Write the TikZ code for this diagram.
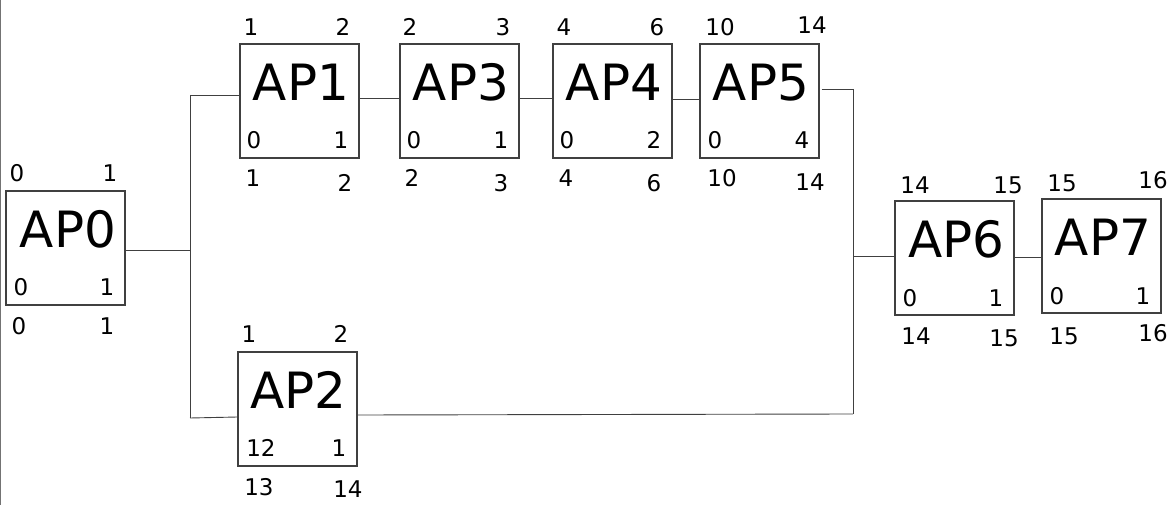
\documentclass[tikz,border=0pt]{standalone}
\usepackage{fontspec}
\setmainfont{DejaVu Sans}
\usepackage{tikz}
\usepackage{xcolor}

\begin{document}
\begin{tikzpicture}[x=1pt,y=-1pt,
  apbox/.style={draw=black!75,line width=1.2pt,minimum width=119pt,minimum height=114pt,inner sep=0pt},
  aptext/.style={inner sep=0pt,font=\fontsize{50}{60}\selectfont},
  num/.style={inner sep=0pt,font=\fontsize{23}{27}\selectfont},
  wire/.style={draw=black!75,line width=0.9pt}]
\useasboundingbox (0,0) rectangle (1175,505);
\draw[black!55,line width=1.5pt] (0.5,0) -- (0.5,505);

% boxes
\node[apbox] (ap0) at (65.5,248) {}; \node[aptext] (ap0t) at ([xshift=2.5,yshift=18.5]ap0.center) {AP0};
\node[apbox] (ap1) at (299.5,101) {}; \node[aptext] (ap1t) at ([xshift=1.5,yshift=18.5]ap1.center) {AP1};
\node[apbox] (ap3) at (459.5,101) {}; \node[aptext] (ap3t) at ([xshift=1.5,yshift=18.5]ap3.center) {AP3};
\node[apbox] (ap4) at (612.5,101) {}; \node[aptext] (ap4t) at ([xshift=1.5,yshift=18.5]ap4.center) {AP4};
\node[apbox] (ap5) at (759.5,101) {}; \node[aptext] (ap5t) at ([xshift=1.5,yshift=18.5]ap5.center) {AP5};
\node[apbox] (ap2) at (297.5,409) {}; \node[aptext] (ap2t) at ([xshift=1,yshift=19]ap2.center) {AP2};
\node[apbox] (ap6) at (954.5,258) {}; \node[aptext] (ap6t) at ([xshift=2,yshift=19]ap6.center) {AP6};
\node[apbox] (ap7) at (1101.5,256) {}; \node[aptext] (ap7t) at ([xshift=1.5,yshift=18.5]ap7.center) {AP7};

% numbers: top, inside, below
\node[num] (ap0tl) at (17,173) {0};   \node[num] (ap0tr) at (110,173) {1};
\node[num] (ap0il) at (21,287) {0};   \node[num] (ap0ir) at (107,287) {1};
\node[num] (ap0bl) at (19,326) {0};   \node[num] (ap0br) at (107,326) {1};
\node[num] (ap1tl) at (251,27) {1};   \node[num] (ap1tr) at (343,27) {2};
\node[num] (ap1il) at (254,140) {0};  \node[num] (ap1ir) at (341,140) {1};
\node[num] (ap1bl) at (253,178) {1};  \node[num] (ap1br) at (345,183) {2};
\node[num] (ap3tl) at (410,27) {2};   \node[num] (ap3tr) at (503,27) {3};
\node[num] (ap3il) at (414,140) {0};  \node[num] (ap3ir) at (501,140) {1};
\node[num] (ap3bl) at (412,178) {2};  \node[num] (ap3br) at (501,183) {3};
\node[num] (ap4tl) at (564,27) {4};   \node[num] (ap4tr) at (657,27) {6};
\node[num] (ap4il) at (567,140) {0};  \node[num] (ap4ir) at (654,140) {2};
\node[num] (ap4bl) at (566,178) {4};  \node[num] (ap4br) at (654,183) {6};
\node[num] (ap5tl) at (720,27) {10};  \node[num] (ap5tr) at (812,25) {14};
\node[num] (ap5il) at (715,140) {0};  \node[num] (ap5ir) at (802,140) {4};
\node[num] (ap5bl) at (722,178) {10}; \node[num] (ap5br) at (810,182) {14};
\node[num] (ap2tl) at (249,334) {1};  \node[num] (ap2tr) at (341,334) {2};
\node[num] (ap2il) at (261,448) {12}; \node[num] (ap2ir) at (339,448) {1};
\node[num] (ap2bl) at (259,487) {13}; \node[num] (ap2br) at (348,489) {14};
\node[num] (ap6tl) at (915,185) {14}; \node[num] (ap6tr) at (1008,185) {15};
\node[num] (ap6il) at (910,298) {0};  \node[num] (ap6ir) at (996,298) {1};
\node[num] (ap6bl) at (916,336) {14}; \node[num] (ap6br) at (1004,338) {15};
\node[num] (ap7tl) at (1062,183) {15}; \node[num] (ap7tr) at (1153,180) {16};
\node[num] (ap7il) at (1057,296) {0};  \node[num] (ap7ir) at (1143,296) {1};
\node[num] (ap7bl) at (1064,336) {15}; \node[num] (ap7br) at (1153,333) {16};

% wires
\coordinate (jl) at (190,250); \coordinate (jlt) at (190,95); \coordinate (jlb) at (190,418);
\coordinate (jr) at (853,256); \coordinate (jrt) at (853,89); \coordinate (jrb) at (853,414);
\draw[wire] (ap0.east |- jl) -- (jl);
\draw[wire] (jlt) -- (jlb);
\draw[wire] (jlt) -- (jlt -| ap1.west);
\draw[wire] (jlb) -- ([yshift=-8]ap2.west);
\draw[wire] ([yshift=3]ap1.east) -- ([yshift=3]ap3.west);
\draw[wire] ([yshift=3]ap3.east) -- ([yshift=3]ap4.west);
\draw[wire] ([yshift=2]ap4.east) -- ([yshift=2]ap5.west);
\draw[wire] ([xshift=2]ap5.east |- jrt) -- (jrt);
\draw[wire] (jrt) -- (jrb);
\draw[wire] ([yshift=-6]ap2.east) -- (jrb);
\draw[wire] (jr) -- (jr -| ap6.west);
\draw[wire] ([yshift=1]ap6.east) -- ([yshift=1]ap6.east -| ap7.west);
\end{tikzpicture}
\end{document}
